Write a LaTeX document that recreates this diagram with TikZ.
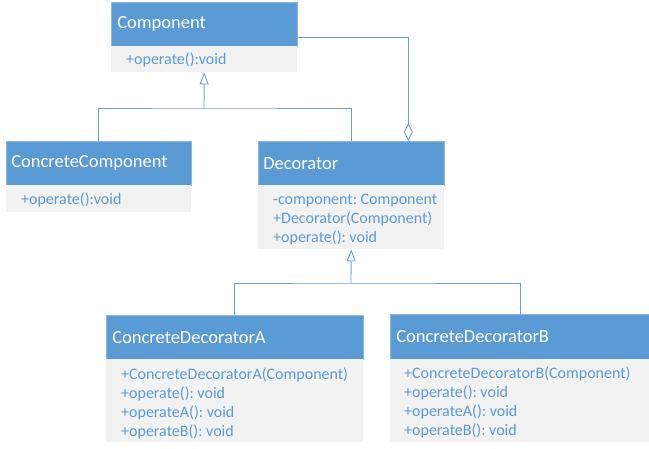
\documentclass[tikz,border=0pt]{standalone}
\usepackage{fontspec}
\setmainfont{Carlito}
\frenchspacing
\usetikzlibrary{arrows.meta}
\definecolor{hblue}{HTML}{5B9BD5}
\definecolor{hedge}{HTML}{8DB8E3}
\definecolor{bgray}{HTML}{F2F2F2}
\definecolor{lblue}{HTML}{6A9FD6}
\tikzset{
  hdr/.style={draw=hedge, line width=0.6pt, fill=hblue, text=white, anchor=north west,
    inner ysep=0pt, align=left, font=\fontsize{18.5}{22}\selectfont},
  bdy/.style={fill=bgray, anchor=north west, inner sep=0pt},
  btxt/.style={text=hblue, anchor=west, inner sep=0pt, align=left,
    font=\fontsize{16}{19}\selectfont},
  conn/.style={draw=lblue, line width=0.9pt},
  inh/.style={conn, -{Triangle[open, length=12pt, width=9pt]}},
  agg/.style={conn, {Diamond[open, length=18pt, width=9pt]}-},
}
\begin{document}
\begin{tikzpicture}[x=1pt, y=-1pt]
\useasboundingbox (0,0) rectangle (649,448);
% Component
\node[hdr, minimum height=44pt, inner xsep=6pt, text width=174pt] (cmph) at (111,2) {Component};
\node[bdy, minimum height=26pt, minimum width=186pt] (cmpb) at (111,46) {};
\node[btxt] (cmpt) at ([xshift=15pt,yshift=-1pt]cmpb.west) {+operate():void};
% ConcreteComponent
\node[hdr, minimum height=44pt, inner xsep=5pt, text width=175pt] (cch) at (6,141) {ConcreteComponent};
\node[bdy, minimum height=27pt, minimum width=185pt] (ccb) at (6,185) {};
\node[btxt] (cct) at ([xshift=15pt,yshift=-1pt]ccb.west) {+operate():void};
% Decorator
\node[hdr, minimum height=44pt, inner xsep=5pt, text width=176pt] (dech) at (258,141) {Decorator};
\node[bdy, minimum height=64pt, minimum width=186pt] (decb) at (258,185) {};
\node[btxt] (dect) at ([xshift=15pt,yshift=-2.5pt]decb.west) {-component: Component\\+Decorator(Component)\\+operate(): void};
% ConcreteDecoratorA
\node[hdr, minimum height=44pt, inner xsep=6pt, text width=245pt] (ah) at (106,315) {ConcreteDecoratorA};
\node[bdy, minimum height=83pt, minimum width=257pt] (ab) at (106,359) {};
\node[btxt] (at) at ([xshift=15pt,yshift=-2.5pt]ab.west) {+ConcreteDecoratorA(Component)\\+operate(): void\\+operateA(): void\\+operateB(): void};
% ConcreteDecoratorB
\node[hdr, minimum height=45pt, inner xsep=6pt, text width=248pt] (bh) at (390,314) {ConcreteDecoratorB};
\node[bdy, minimum height=83pt, minimum width=262pt] (bb) at (390,359) {};
\node[btxt] (bt) at ([xshift=14pt,yshift=-2pt]bb.west) {+ConcreteDecoratorB(Component)\\+operate(): void\\+operateA(): void\\+operateB(): void};
% connectors
\coordinate (j1) at (204,108);
\coordinate (j2) at (351,283);
\draw[conn] (cch.north) |- (j1) -| (dech.north);
\draw[inh] (j1) -- (cmpb.south);
\draw[conn] (ah.north) |- (j2) -| (bh.north);
\draw[inh] (j2) -- (decb.south);
\draw[agg] ([xshift=57pt]dech.north) |- ([yshift=-13pt]cmph.east);
\end{tikzpicture}
\end{document}
